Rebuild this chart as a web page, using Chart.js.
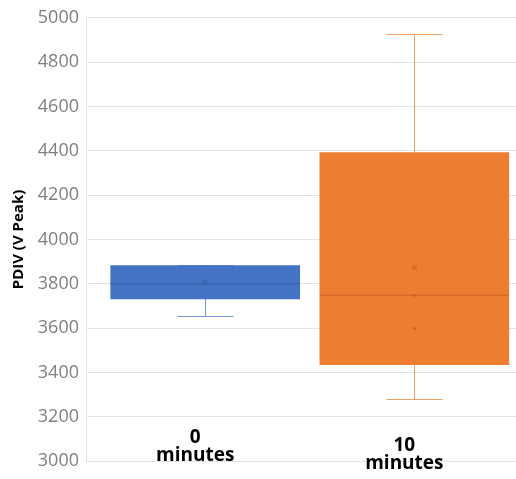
<!DOCTYPE html>
<html>
<head>
<meta charset="utf-8">
<script src="https://cdn.jsdelivr.net/npm/chart.js@4/dist/chart.umd.min.js"></script>
<style>
  html, body { margin: 0; padding: 0; background: #fff; }
  #wrap { width: 516px; height: 479px; }
</style>
</head>
<body>
<div id="wrap"><canvas id="mycanvas" width="516" height="479"></canvas></div>
<script>
// box plot values
var categories = [["0", "minutes"], ["10", "minutes"]];
var q1 = [3732, 3435];
var q3 = [3882, 4392];
var median = [3800, 3749];
var mean = [3807, 3874];
var whiskerMin = [3656, 3279];
var whiskerMax = [3885, 4925];
var innerPoints = [[], [3599, 3749]];
var yTicks = [3000, 3200, 3400, 3600, 3800, 4000, 4200, 4400, 4600, 4800, 5000];

var fills = ["#4472C4", "#ED7D31"];
var darks = ["#3A63AD", "#D46A25"];

var boxData = [];
var meanData = [];
var pointData = [];
for (var i = 0; i < categories.length; i++) {
  boxData.push({ x: i + 1, y: [q1[i], q3[i]] });
  meanData.push({ x: i + 1, y: mean[i] });
  for (var j = 0; j < innerPoints[i].length; j++) {
    pointData.push({ x: i + 1, y: innerPoints[i][j] });
  }
}

var boxPlugin = {
  id: "boxParts",
  beforeDatasetsDraw: function(chart) {
    var ctx = chart.ctx, xs = chart.scales.x, ys = chart.scales.y;
    ctx.save();
    ctx.lineWidth = 1;
    for (var i = 0; i < categories.length; i++) {
      var x = Math.round(xs.getPixelForValue(i + 1)) + 0.5;
      ctx.strokeStyle = fills[i];
      ctx.globalAlpha = 0.75;
      ctx.beginPath();
      ctx.moveTo(x, ys.getPixelForValue(whiskerMax[i]));
      ctx.lineTo(x, ys.getPixelForValue(q3[i]));
      ctx.moveTo(x, ys.getPixelForValue(q1[i]));
      ctx.lineTo(x, ys.getPixelForValue(whiskerMin[i]));
      [whiskerMin[i], whiskerMax[i]].forEach(function(v) {
        var y = Math.round(ys.getPixelForValue(v)) + 0.5;
        ctx.moveTo(x - 28, y);
        ctx.lineTo(x + 28, y);
      });
      ctx.stroke();
    }
    ctx.restore();
  },
  afterDatasetDraw: function(chart, args) {
    if (args.index !== 0) return;
    var ctx = chart.ctx, ys = chart.scales.y;
    var meta = chart.getDatasetMeta(0);
    ctx.save();
    ctx.lineWidth = 1.5;
    meta.data.forEach(function(bar, i) {
      var y = ys.getPixelForValue(median[i]);
      ctx.strokeStyle = darks[i];
      ctx.beginPath();
      ctx.moveTo(bar.x - bar.width / 2, y);
      ctx.lineTo(bar.x + bar.width / 2, y);
      ctx.stroke();
    });
    ctx.restore();
  },
  afterDraw: function(chart) {
    var ctx = chart.ctx, xs = chart.scales.x, area = chart.chartArea;
    var drop = [0, 8];
    ctx.save();
    ctx.fillStyle = "#000";
    ctx.font = "bold 19px 'Open Sans'";
    ctx.textAlign = "center";
    ctx.textBaseline = "alphabetic";
    for (var i = 0; i < categories.length; i++) {
      var x = xs.getPixelForValue(i + 1) - 10;
      ctx.fillText(categories[i][0], x, area.bottom - 18 + drop[i]);
      ctx.fillText(categories[i][1], x, area.bottom + drop[i]);
    }
    ctx.restore();
  }
};

var ctx = document.getElementById("mycanvas");

var boxChart = new Chart(ctx, {
  data: {
    datasets: [
      {
        type: "bar",
        label: "box",
        data: boxData,
        backgroundColor: fills,
        borderWidth: 0,
        barThickness: 189,
        grouped: false,
        order: 2
      },
      {
        type: "scatter",
        label: "mean",
        data: meanData,
        pointStyle: "crossRot",
        pointRadius: 3.5,
        borderWidth: 1.5,
        borderColor: darks,
        order: 0
      },
      {
        type: "scatter",
        label: "points",
        data: pointData,
        pointStyle: "circle",
        pointRadius: 1.5,
        borderWidth: 0,
        backgroundColor: "#C9641F",
        order: 1
      }
    ]
  },
  options: {
    responsive: false,
    animation: false,
    layout: { autoPadding: false, padding: { top: 17, bottom: 11, left: 0, right: 0 } },
    plugins: {
      legend: { display: false },
      tooltip: { enabled: false }
    },
    scales: {
      x: {
        type: "linear",
        display: false,
        offset: false,
        min: 0.43,
        max: 2.486
      },
      y: {
        min: 3000,
        max: 5000,
        afterBuildTicks: function(scale) {
          scale.ticks = yTicks.map(function(v) { return { value: v }; });
        },
        afterFit: function(scale) { scale.width = 86; },
        grid: { color: "#e3e3e3", drawTicks: false },
        border: { display: true, color: "#e3e3e3" },
        ticks: {
          padding: 7,
          color: "#808080",
          font: { family: "'Open Sans'", size: 18 },
          callback: function(v) { return String(v); }
        },
        title: {
          display: true,
          text: "PDIV (V Peak)",
          color: "#000",
          padding: { top: 10, bottom: 0 },
          font: { family: "'Open Sans'", size: 15, weight: "bold" }
        }
      }
    }
  },
  plugins: [boxPlugin]
});
</script>
</body>
</html>
